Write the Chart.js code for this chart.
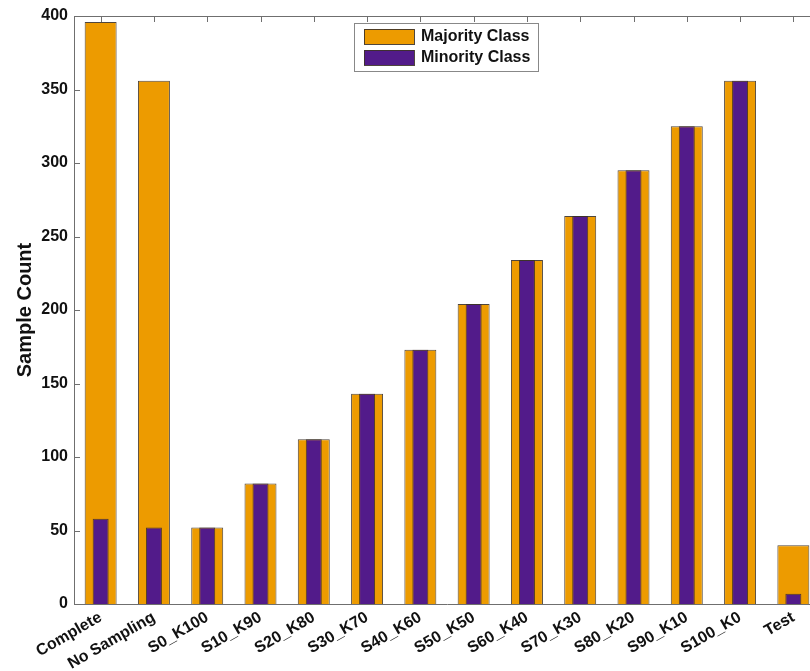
<!DOCTYPE html>
<html>
<head>
<meta charset="utf-8">
<script src="https://cdn.jsdelivr.net/npm/chart.js@4/dist/chart.umd.min.js"></script>
<style>
  html, body { margin: 0; padding: 0; background: #fff; overflow: hidden; }
  #wrap { width: 830px; height: 671px; }
</style>
</head>
<body>
<div id="wrap"><canvas id="c" width="830" height="671"></canvas></div>
<script>
// Sample counts per sampling configuration
const categories = ['Complete', 'No Sampling', 'S0_K100', 'S10_K90', 'S20_K80', 'S30_K70',
  'S40_K60', 'S50_K50', 'S60_K40', 'S70_K30', 'S80_K20', 'S90_K10', 'S100_K0', 'Test'];
const majorityCounts = [396, 356, 52, 82, 112, 143, 173, 204, 234, 264, 295, 325, 356, 40];
const minorityCounts = [58, 52, 52, 82, 112, 143, 173, 204, 234, 264, 295, 325, 356, 7];
const yTicks = [0, 50, 100, 150, 200, 250, 300, 350, 400];

const FONT = 'Liberation Sans, Arial, Helvetica, sans-serif';
const ORANGE = '#ED9B00';
const PURPLE = '#521B8A';
const EDGE = 'rgba(60,50,40,0.9)';
const AXIS = '#6f6f6f';

// Axis frame: inward ticks on the left and top, plus a boxed legend
const framePlugin = {
  id: 'frame',
  afterDatasetsDraw(chart) {
    const { ctx, chartArea: a, scales } = chart;
    ctx.save();
    ctx.strokeStyle = AXIS;
    ctx.lineWidth = 1;
    // top border
    ctx.beginPath();
    ctx.moveTo(a.left, a.top + 0.5);
    ctx.lineTo(a.right, a.top + 0.5);
    ctx.stroke();
    // top ticks at category centres
    categories.forEach((c, i) => {
      const x = Math.round(scales.x.getPixelForValue(i)) + 0.5;
      ctx.beginPath();
      ctx.moveTo(x, a.top);
      ctx.lineTo(x, a.top + 6);
      ctx.stroke();
    });
    // left ticks (inward)
    yTicks.forEach(v => {
      const y = Math.round(scales.y.getPixelForValue(v)) + 0.5;
      ctx.beginPath();
      ctx.moveTo(a.left, y);
      ctx.lineTo(a.left + 6, y);
      ctx.stroke();
    });

    // legend box
    const lx = 354, ly = 23, lw = 184, lh = 48;
    ctx.fillStyle = '#fff';
    ctx.fillRect(lx, ly, lw, lh);
    ctx.strokeStyle = '#888';
    ctx.strokeRect(lx + 0.5, ly + 0.5, lw, lh);
    const items = chart.data.datasets.map(d => ({ label: d.label, color: d.backgroundColor }));
    items.forEach((it, i) => {
      const sy = 29 + i * 21;
      ctx.fillStyle = it.color;
      ctx.fillRect(364, sy, 50, 15);
      ctx.strokeStyle = EDGE;
      ctx.strokeRect(364.5, sy + 0.5, 50, 15);
      ctx.fillStyle = '#111';
      ctx.font = 'bold 16px ' + FONT;
      ctx.textBaseline = 'middle';
      ctx.textAlign = 'left';
      ctx.fillText(it.label, 421, sy + 8);
    });
    ctx.restore();
  }
};

new Chart(document.getElementById('c'), {
  type: 'bar',
  data: {
    labels: categories,
    datasets: [
      {
        label: 'Majority Class',
        data: majorityCounts,
        backgroundColor: ORANGE,
        borderColor: EDGE,
        borderWidth: 1,
        barPercentage: 0.6,
        categoryPercentage: 1.0,
        grouped: false,
        order: 2
      },
      {
        label: 'Minority Class',
        data: minorityCounts,
        backgroundColor: PURPLE,
        borderColor: EDGE,
        borderWidth: 1,
        barPercentage: 0.3,
        categoryPercentage: 1.0,
        grouped: false,
        order: 1
      }
    ]
  },
  options: {
    responsive: false,
    animation: false,
    layout: { padding: { left: 0, top: 16, right: 10, bottom: 0 } },
    plugins: {
      legend: { display: false },
      tooltip: { enabled: false }
    },
    scales: {
      x: {
        grid: { display: false, drawTicks: false },
        border: { display: true, color: AXIS, width: 1 },
        ticks: {
          color: '#111',
          font: { family: FONT, size: 16, weight: 'bold' },
          minRotation: 30,
          maxRotation: 30,
          autoSkip: false,
          padding: 4
        },
        afterFit(scale) { scale.height = 67; }
      },
      y: {
        min: 0,
        max: 400,
        grid: { display: false, drawTicks: false },
        border: { display: true, color: AXIS, width: 1 },
        ticks: {
          stepSize: 50,
          color: '#111',
          font: { family: FONT, size: 16, weight: 'bold' },
          padding: 6
        },
        title: {
          display: true,
          text: 'Sample Count',
          color: '#111',
          font: { family: FONT, size: 20, weight: 'bold' },
          padding: { top: 13, bottom: 0 }
        },
        afterFit(scale) { scale.width = 74; }
      }
    }
  },
  plugins: [framePlugin]
});
</script>
</body>
</html>
